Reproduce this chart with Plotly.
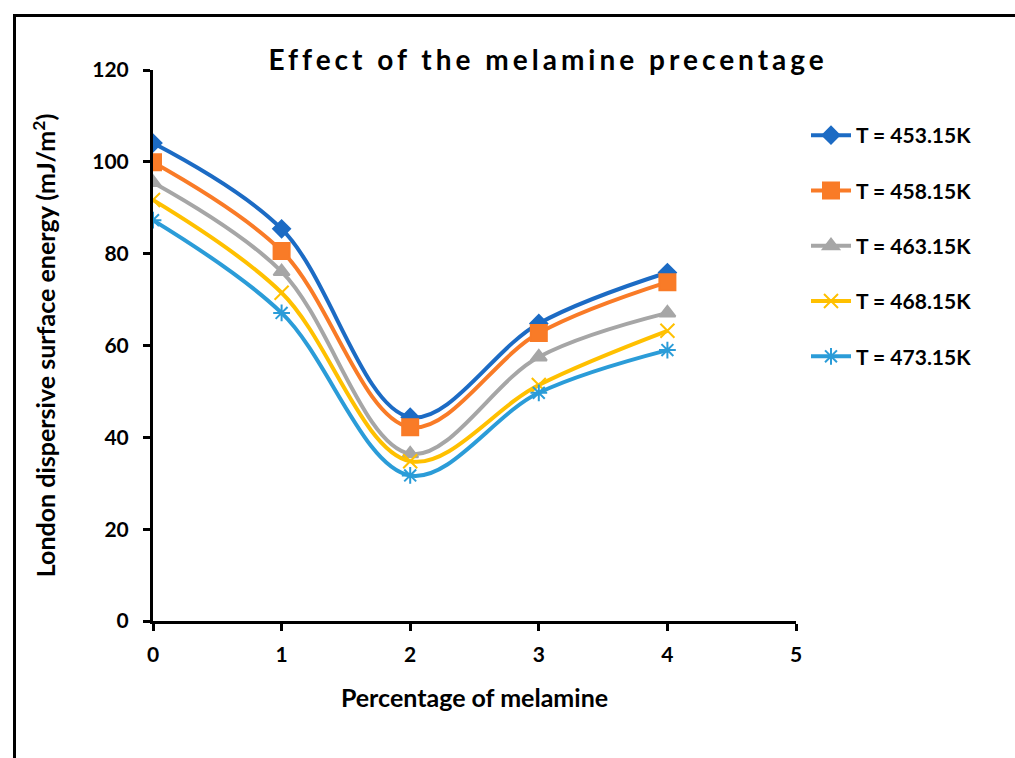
import plotly.graph_objects as go

# ---- data ----
melamine_pct = [0, 1, 2, 3, 4]
series_names = ["T = 453.15K", "T = 458.15K", "T = 463.15K", "T = 468.15K", "T = 473.15K"]
t453 = [104.1, 85.4, 44.4, 64.8, 75.9]
t458 = [99.9, 80.6, 42.2, 62.7, 73.8]
t463 = [95.5, 76.1, 36.4, 57.5, 67.1]
t468 = [91.7, 71.5, 34.8, 51.4, 63.2]
t473 = [87.3, 67.1, 31.7, 49.7, 59.0]
all_series = [t453, t458, t463, t468, t473]

colors = ["#1C6BC4", "#F97B27", "#A6A6A6", "#FFC000", "#2B9CD8"]
symbols = ["diamond", "square", "triangle-up", "x-thin-open", "asterisk-open"]
msizes = [13, 16, 14, 14, 14]

FONT = "Lato, 'Open Sans', Arial, sans-serif"

fig = go.Figure()
for i, (name, ys) in enumerate(zip(series_names, all_series)):
    fig.add_trace(go.Scatter(
        x=melamine_pct, y=ys, name=f"<b>{name}</b>", mode="lines+markers",
        legendgroup=f"g{i}",
        line=dict(color=colors[i], width=4, shape="spline", smoothing=1.0),
        marker=dict(symbol=symbols[i], size=msizes[i], color=colors[i],
                    line=dict(color=colors[i], width=2)),
    ))

# plot-area pixel geometry (for the decorative outer frame)
L, R, T, B = 153, 796, 70, 621
W, H = 1015, 758
def px_x(p):
    return (p - L) / (R - L)
def px_y(p):
    return (B - p) / (B - T)

fig.update_layout(
    width=W, height=H,
    margin=dict(l=L, r=W - R, t=T, b=H - B),
    paper_bgcolor="white", plot_bgcolor="white",
    font=dict(family=FONT, color="black", size=21),
    title=dict(
        text='<b><span style="letter-spacing:4px">Effect of the melamine precentage</span></b>',
        x=0.54, xanchor="center", y=1 - 60 / H, yanchor="middle",
        font=dict(family=FONT, size=28, color="black"),
    ),
    xaxis=dict(
        range=[0, 5], dtick=1, tick0=0, showgrid=False, zeroline=False,
        showline=True, linecolor="black", linewidth=3,
        ticks="outside", ticklen=7, tickwidth=2.5, tickcolor="black",
        ticklabelstandoff=6,
        tickprefix="<b>", ticksuffix="</b>",
        tickfont=dict(family=FONT, size=21, color="black"),
        title=dict(text="<b>Percentage of melamine</b>", standoff=25,
                   font=dict(family=FONT, size=25, color="black")),
    ),
    yaxis=dict(
        range=[0, 120], dtick=20, tick0=0, showgrid=False, zeroline=False,
        showline=True, linecolor="black", linewidth=3,
        ticks="outside", ticklen=7, tickwidth=2.5, tickcolor="black",
        ticklabelstandoff=10,
        tickprefix="<b>", ticksuffix="</b>",
        tickfont=dict(family=FONT, size=21, color="black"),
        title=dict(text="<b>London dispersive surface energy (mJ/m<sup>2</sup>)</b>", standoff=30,
                   font=dict(family=FONT, size=25, color="black")),
    ),
    showlegend=True,
    legend=dict(
        x=px_x(806), y=px_y(115), xanchor="left", yanchor="top",
        tracegroupgap=25, bgcolor="rgba(0,0,0,0)",
        font=dict(family=FONT, size=21, color="black"),
        itemwidth=40,
    ),
    shapes=[dict(
        type="rect", xref="paper", yref="paper",
        x0=px_x(14.5), y0=px_y(900), x1=px_x(1200), y1=px_y(15.5),
        line=dict(color="black", width=3), fillcolor="rgba(0,0,0,0)", layer="above",
    )],
)

fig.write_html("out.html")
